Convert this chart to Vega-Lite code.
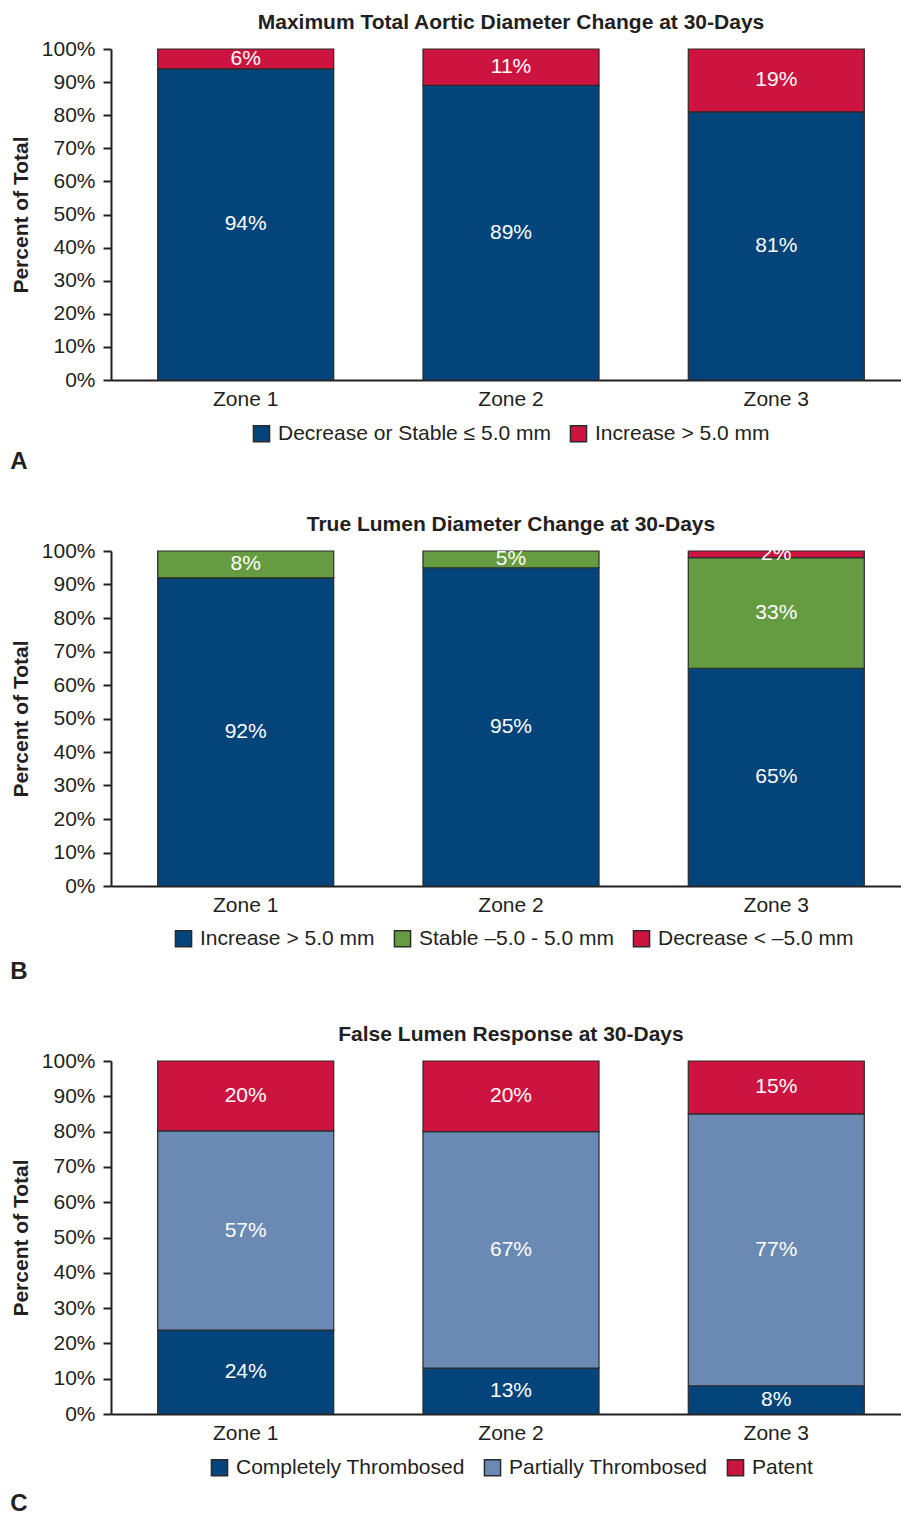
{
  "$schema": "https://vega.github.io/schema/vega-lite/v6.json",
  "background": "white",
  "padding": {"left": 10, "top": 12, "right": 0, "bottom": 0},
  "config": {
    "font": "Liberation Sans",
    "view": {"stroke": null},
    "title": {"fontSize": 21, "fontWeight": "bold", "color": "#231f20", "offset": 5},
    "axis": {"labelColor": "#231f20", "titleColor": "#231f20", "domainColor": "#231f20", "tickColor": "#231f20", "grid": false},
    "axisY": {"format": ".0%", "values": [0, 0.1, 0.2, 0.3, 0.4, 0.5, 0.6, 0.7, 0.8, 0.9, 1], "labelOverlap": false, "labelFontSize": 21, "titleFontSize": 21, "titleFontWeight": "bold", "tickSize": 8, "tickWidth": 2, "domainWidth": 2, "labelPadding": 8, "titlePadding": 10},
    "legend": {"orient": "none", "direction": "horizontal", "title": null, "symbolType": "square", "symbolSize": 260, "symbolStrokeColor": "#2b2b2b", "symbolStrokeWidth": 1.5, "symbolOpacity": 1, "labelFontSize": 21, "labelLimit": 400, "labelColor": "#231f20", "columnPadding": 16, "labelOffset": 6, "padding": 0},
    "concat": {"spacing": 40}
  },
  "resolve": {"scale": {"color": "independent"}, "legend": {"color": "independent"}},
  "vconcat": [
    {
      "title": {"text": "A", "orient": "bottom", "anchor": "start", "fontSize": 24, "fontWeight": "bold", "offset": 5},
      "vconcat": [
        {
          "title": {"text": "Maximum Total Aortic Diameter Change at 30-Days"},
          "width": 800,
          "height": 331,
          "data": {"values": [
            {"zone": "Zone 1", "category": "Decrease or Stable ≤ 5.0 mm", "order": 1, "share": 0.94},
            {"zone": "Zone 1", "category": "Increase > 5.0 mm", "order": 2, "share": 0.06},
            {"zone": "Zone 2", "category": "Decrease or Stable ≤ 5.0 mm", "order": 1, "share": 0.89},
            {"zone": "Zone 2", "category": "Increase > 5.0 mm", "order": 2, "share": 0.11},
            {"zone": "Zone 3", "category": "Decrease or Stable ≤ 5.0 mm", "order": 1, "share": 0.81},
            {"zone": "Zone 3", "category": "Increase > 5.0 mm", "order": 2, "share": 0.19}
          ]},
          "transform": [
            {"stack": "share", "groupby": ["zone"], "sort": [{"field": "order"}], "offset": "normalize", "as": ["y0", "y1"]},
            {"calculate": "(datum.y0 + datum.y1) / 2", "as": "mid"}
          ],
          "encoding": {
            "x": {"field": "zone", "type": "nominal", "title": null,
              "scale": {"paddingInner": 0.3365, "paddingOuter": 0.176},
              "axis": {"labelAngle": 0, "labelFontSize": 21, "ticks": false, "labelPadding": 8, "domainWidth": 2}}
          },
          "layer": [
            {
              "mark": {"type": "bar", "stroke": "#2b2b2b", "strokeWidth": 1.2},
              "encoding": {
                "y": {"field": "y0", "type": "quantitative", "scale": {"domain": [0, 1]}, "title": "Percent of Total"},
                "y2": {"field": "y1"},
                "color": {"field": "category", "type": "nominal", "sort": null,
                  "scale": {"domain": ["Decrease or Stable ≤ 5.0 mm", "Increase > 5.0 mm"], "range": ["#03447a", "#cd133f"]},
                  "legend": {"orient": "none", "legendX": 140, "legendY": 374}}
              }
            },
            {
              "mark": {"type": "text", "color": "white", "fontSize": 21, "baseline": "middle"},
              "encoding": {
                "y": {"field": "mid", "type": "quantitative", "title": "Percent of Total"},
                "text": {"field": "share", "type": "quantitative", "format": ".0%"}
              }
            }
          ]
        }
      ]
    },
    {
      "title": {"text": "B", "orient": "bottom", "anchor": "start", "fontSize": 24, "fontWeight": "bold", "offset": 10},
      "vconcat": [
        {
          "title": {"text": "True Lumen Diameter Change at 30-Days"},
          "width": 800,
          "height": 335,
          "data": {"values": [
            {"zone": "Zone 1", "category": "Increase > 5.0 mm", "order": 1, "share": 0.92},
            {"zone": "Zone 1", "category": "Stable –5.0 - 5.0 mm", "order": 2, "share": 0.08},
            {"zone": "Zone 2", "category": "Increase > 5.0 mm", "order": 1, "share": 0.95},
            {"zone": "Zone 2", "category": "Stable –5.0 - 5.0 mm", "order": 2, "share": 0.05},
            {"zone": "Zone 3", "category": "Increase > 5.0 mm", "order": 1, "share": 0.65},
            {"zone": "Zone 3", "category": "Stable –5.0 - 5.0 mm", "order": 2, "share": 0.33},
            {"zone": "Zone 3", "category": "Decrease < –5.0 mm", "order": 3, "share": 0.02}
          ]},
          "transform": [
            {"stack": "share", "groupby": ["zone"], "sort": [{"field": "order"}], "offset": "normalize", "as": ["y0", "y1"]},
            {"calculate": "(datum.y0 + datum.y1) / 2", "as": "mid"}
          ],
          "encoding": {
            "x": {"field": "zone", "type": "nominal", "title": null,
              "scale": {"paddingInner": 0.3365, "paddingOuter": 0.176},
              "axis": {"labelAngle": 0, "labelFontSize": 21, "ticks": false, "labelPadding": 8, "domainWidth": 2}}
          },
          "layer": [
            {
              "mark": {"type": "bar", "stroke": "#2b2b2b", "strokeWidth": 1.2},
              "encoding": {
                "y": {"field": "y0", "type": "quantitative", "scale": {"domain": [0, 1]}, "title": "Percent of Total"},
                "y2": {"field": "y1"},
                "color": {"field": "category", "type": "nominal", "sort": null,
                  "scale": {"domain": ["Increase > 5.0 mm", "Stable –5.0 - 5.0 mm", "Decrease < –5.0 mm"], "range": ["#03447a", "#669c41", "#cd133f"]},
                  "legend": {"orient": "none", "legendX": 62, "legendY": 377}}
              }
            },
            {
              "mark": {"type": "text", "color": "white", "fontSize": 21, "baseline": "middle"},
              "encoding": {
                "y": {"field": "mid", "type": "quantitative", "title": "Percent of Total"},
                "text": {"field": "share", "type": "quantitative", "format": ".0%"}
              }
            }
          ]
        }
      ]
    },
    {
      "title": {"text": "C", "orient": "bottom", "anchor": "start", "fontSize": 24, "fontWeight": "bold", "offset": 13},
      "vconcat": [
        {
          "title": {"text": "False Lumen Response at 30-Days"},
          "width": 800,
          "height": 353,
          "data": {"values": [
            {"zone": "Zone 1", "category": "Completely Thrombosed", "order": 1, "share": 0.24},
            {"zone": "Zone 1", "category": "Partially Thrombosed", "order": 2, "share": 0.57},
            {"zone": "Zone 1", "category": "Patent", "order": 3, "share": 0.20},
            {"zone": "Zone 2", "category": "Completely Thrombosed", "order": 1, "share": 0.13},
            {"zone": "Zone 2", "category": "Partially Thrombosed", "order": 2, "share": 0.67},
            {"zone": "Zone 2", "category": "Patent", "order": 3, "share": 0.20},
            {"zone": "Zone 3", "category": "Completely Thrombosed", "order": 1, "share": 0.08},
            {"zone": "Zone 3", "category": "Partially Thrombosed", "order": 2, "share": 0.77},
            {"zone": "Zone 3", "category": "Patent", "order": 3, "share": 0.15}
          ]},
          "transform": [
            {"stack": "share", "groupby": ["zone"], "sort": [{"field": "order"}], "offset": "normalize", "as": ["y0", "y1"]},
            {"calculate": "(datum.y0 + datum.y1) / 2", "as": "mid"}
          ],
          "encoding": {
            "x": {"field": "zone", "type": "nominal", "title": null,
              "scale": {"paddingInner": 0.3365, "paddingOuter": 0.176},
              "axis": {"labelAngle": 0, "labelFontSize": 21, "ticks": false, "labelPadding": 8, "domainWidth": 2}}
          },
          "layer": [
            {
              "mark": {"type": "bar", "stroke": "#2b2b2b", "strokeWidth": 1.2},
              "encoding": {
                "y": {"field": "y0", "type": "quantitative", "scale": {"domain": [0, 1]}, "title": "Percent of Total"},
                "y2": {"field": "y1"},
                "color": {"field": "category", "type": "nominal", "sort": null,
                  "scale": {"domain": ["Completely Thrombosed", "Partially Thrombosed", "Patent"], "range": ["#03447a", "#6a8ab3", "#cd133f"]},
                  "legend": {"orient": "none", "legendX": 98, "legendY": 396}}
              }
            },
            {
              "mark": {"type": "text", "color": "white", "fontSize": 21, "baseline": "middle"},
              "encoding": {
                "y": {"field": "mid", "type": "quantitative", "title": "Percent of Total"},
                "text": {"field": "share", "type": "quantitative", "format": ".0%"}
              }
            }
          ]
        }
      ]
    }
  ]
}
